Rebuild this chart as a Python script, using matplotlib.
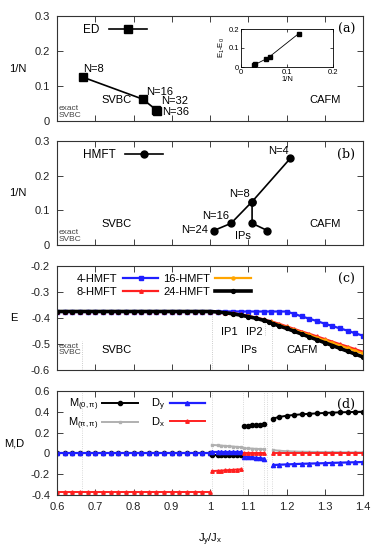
import numpy as np
import matplotlib
matplotlib.use("Agg")
import matplotlib.pyplot as plt
from matplotlib.ticker import FormatStrFormatter

plt.rcParams['font.family'] = ['Liberation Sans', 'DejaVu Sans']
plt.rcParams['mathtext.fontset'] = 'custom'
plt.rcParams['mathtext.rm'] = 'Liberation Sans'
plt.rcParams['mathtext.it'] = 'Liberation Sans'

# ---------------- data ----------------
# (a) exact diagonalisation
ed_x = [0.668, 0.824, 0.860, 0.862]
ed_invn = [1 / 8, 1 / 16, 1 / 32, 1 / 36]
gap_invn = [0.125, 0.0625, 0.055, 0.03125, 0.0278]
gap_e = [0.175, 0.055, 0.043, 0.014, 0.012]

# (b) HMFT boundaries
hm1_x = [1.21, 1.11, 1.055, 1.01]
hm1_invn = [0.25, 0.125, 0.0625, 0.0417]
hm2_x = [1.11, 1.11, 1.15]
hm2_invn = [0.125, 0.0625, 0.0417]

# (c) energies
ec_x = [0.60, 0.62, 0.64, 0.66, 0.68, 0.70, 0.72, 0.74, 0.76, 0.78, 0.80,
        0.82, 0.84, 0.86, 0.88, 0.90, 0.92, 0.94, 0.96, 0.98, 1.00,
        1.02, 1.04, 1.06, 1.08, 1.10, 1.12, 1.14, 1.16, 1.18, 1.20,
        1.22, 1.24, 1.26, 1.28, 1.30, 1.32, 1.34, 1.36, 1.38, 1.40]
e4 = [-0.375] * 31 + [-0.384, -0.394, -0.403, -0.412, -0.422,
                      -0.431, -0.440, -0.449, -0.459, -0.468]
e8 = [-0.375] * 21 + [-0.377, -0.379, -0.382, -0.386, -0.392, -0.398, -0.405,
                      -0.413, -0.422, -0.432, -0.442, -0.452, -0.461, -0.471,
                      -0.481, -0.491, -0.501, -0.510, -0.520, -0.530]
e16 = [-0.375] * 21 + [-0.377, -0.380, -0.384, -0.388, -0.394, -0.400, -0.408,
                       -0.416, -0.426, -0.436, -0.446, -0.456, -0.466, -0.476,
                       -0.486, -0.496, -0.506, -0.516, -0.526, -0.536]
e24_x = ec_x[:28] + [1.155, np.nan, 1.165, 1.18, 1.20, 1.22, 1.24, 1.26, 1.28,
                     1.30, 1.32, 1.34, 1.36, 1.38, 1.40]
e24 = [-0.375] * 21 + [-0.377, -0.380, -0.384, -0.389, -0.395, -0.401, -0.409,
                       -0.415, np.nan, -0.422, -0.430, -0.440, -0.451, -0.462,
                       -0.473, -0.484, -0.495, -0.506, -0.517, -0.528, -0.539,
                       -0.550]

# (d) order parameters, one list per phase
x_svbc = ec_x[:21]
x_ip1 = [1.005, 1.02, 1.03, 1.04, 1.05, 1.06, 1.07, 1.08]
x_ip2 = [1.09, 1.10, 1.11, 1.12, 1.13, 1.14]
x_cafm = [1.165, 1.18, 1.20, 1.22, 1.24, 1.26, 1.28, 1.30, 1.32, 1.34, 1.36, 1.38, 1.40]

m0 = {"svbc": [0.0] * 21,
      "ip1": [-0.012] * 8,
      "ip2": [0.262, 0.266, 0.270, 0.273, 0.276, 0.279],
      "cafm": [0.335, 0.350, 0.362, 0.370, 0.376, 0.381, 0.385, 0.389, 0.392,
               0.395, 0.397, 0.399, 0.401]}
mpp = {"svbc": [0.0] * 21,
       "ip1": [0.082, 0.078, 0.075, 0.072, 0.069, 0.066, 0.063, 0.060],
       "ip2": [0.050, 0.048, 0.046, 0.044, 0.042, 0.040],
       "cafm": [0.032, 0.026, 0.021, 0.018, 0.016, 0.015, 0.014, 0.013, 0.012,
                0.011, 0.010, 0.010, 0.010]}
dy = {"svbc": [0.0] * 21,
      "ip1": [0.018] * 8,
      "ip2": [-0.030, -0.034, -0.038, -0.042, -0.046, -0.050],
      "cafm": [-0.112, -0.109, -0.106, -0.103, -0.100, -0.098, -0.096, -0.094,
               -0.091, -0.089, -0.087, -0.085, -0.083]}
dx = {"svbc": [-0.375] * 21,
      "ip1": [-0.170, -0.167, -0.165, -0.162, -0.160, -0.158, -0.155, -0.153],
      "ip2": [0.0] * 6,
      "cafm": [0.008] * 13}
phase_x = {"svbc": x_svbc, "ip1": x_ip1, "ip2": x_ip2, "cafm": x_cafm}
boundaries = [0.665, 1.005, 1.085, 1.14, 1.148, 1.163]

# ---------------- figure ----------------
W, H = 382, 557
fig = plt.figure(figsize=(W / 100, H / 100), dpi=100)
L, R = 57, 363


def px_axes(top, bottom, left=L, right=R):
    return fig.add_axes([left / W, 1 - bottom / H, (right - left) / W, (bottom - top) / H])


def style(ax, ylim, yticks, ylabel, bottom_labels=False):
    ax.set_xlim(0.6, 1.4)
    ax.set_ylim(*ylim)
    ax.set_xticks(np.round(np.arange(0.6, 1.41, 0.1), 1))
    ax.set_yticks(yticks)
    ax.xaxis.set_major_formatter(FormatStrFormatter('%g'))
    ax.yaxis.set_major_formatter(FormatStrFormatter('%g'))
    ax.tick_params(direction='in', top=True, right=True, length=4, width=0.6,
                   labelsize=8, pad=5, labelbottom=bottom_labels, colors='#222222')
    for s in ax.spines.values():
        s.set_linewidth(0.8)
        s.set_color('#333333')
    ax.set_ylabel(ylabel, rotation=0, fontsize=8, labelpad=12, va='center')


def panel_tag(ax, tag):
    ax.text(0.975, 0.93, tag, transform=ax.transAxes, ha='right', va='top',
            fontsize=9, family='DejaVu Serif')


small = dict(fontsize=6, color='#444444', linespacing=0.95)

# (a)
axa = px_axes(16, 121)
style(axa, (0, 0.3), [0, 0.1, 0.2, 0.3], "1/N")
axa.plot(ed_x, ed_invn, '-s', color='black', lw=1.2, ms=6, label="ED")
axa.legend(loc='upper left', bbox_to_anchor=(0.07, 0.97), frameon=False,
           markerfirst=False, handlelength=3.2, fontsize=8.5, borderaxespad=0)
axa.text(0.668, 0.14, "N=8", fontsize=8, ha='left')
axa.text(0.832, 0.083, "N=16", fontsize=8, ha='left', va='center')
axa.text(0.872, 0.057, "N=32", fontsize=8, ha='left', va='center')
axa.text(0.876, 0.027, "N=36", fontsize=8, ha='left', va='center')
axa.text(0.603, 0.012, "exact\nSVBC", **small)
axa.text(0.715, 0.052, "SVBC", fontsize=8)
axa.text(1.26, 0.052, "CAFM", fontsize=8)
panel_tag(axa, "(a)")

ins = px_axes(29, 67, 241, 333)
ins.plot(gap_invn, gap_e, '-s', color='black', lw=0.6, ms=3)
ins.set_xlim(0, 0.2)
ins.set_ylim(0, 0.2)
ins.set_xticks([0, 0.1, 0.2])
ins.set_yticks([0, 0.1, 0.2])
ins.xaxis.set_major_formatter(FormatStrFormatter('%g'))
ins.yaxis.set_major_formatter(FormatStrFormatter('%g'))
ins.tick_params(direction='in', top=True, right=True, length=2.5, width=0.5,
                labelsize=5.5, pad=1.5)
for s in ins.spines.values():
    s.set_linewidth(0.6)
ins.set_xlabel("1/N", fontsize=5.5, labelpad=0)
ins.set_ylabel("E$_1$-E$_0$", fontsize=5.5, labelpad=1)

# (b)
axb = px_axes(141, 245)
style(axb, (0, 0.3), [0, 0.1, 0.2, 0.3], "1/N")
axb.plot(hm1_x, hm1_invn, '-o', color='black', lw=1.2, ms=5, label="HMFT")
axb.plot(hm2_x, hm2_invn, '-o', color='black', lw=1.2, ms=5)
axb.legend(loc='upper left', bbox_to_anchor=(0.07, 0.97), frameon=False,
           markerfirst=False, handlelength=3.2, fontsize=8.5, borderaxespad=0)
axb.text(1.205, 0.262, "N=4", fontsize=8, ha='right')
axb.text(1.105, 0.138, "N=8", fontsize=8, ha='right')
axb.text(1.05, 0.075, "N=16", fontsize=8, ha='right')
axb.text(0.995, 0.036, "N=24", fontsize=8, ha='right')
axb.text(1.065, 0.018, "IPs", fontsize=8)
axb.text(0.603, 0.012, "exact\nSVBC", **small)
axb.text(0.715, 0.052, "SVBC", fontsize=8)
axb.text(1.26, 0.052, "CAFM", fontsize=8)
panel_tag(axb, "(b)")

# (c)
axc = px_axes(266, 370)
style(axc, (-0.6, -0.2), [-0.6, -0.5, -0.4, -0.3, -0.2], "E")
vl = dict(color='#bbbbbb', lw=0.6, ls=':')
axc.plot([0.665, 0.665], [-0.6, -0.49], **vl)
axc.plot([1.005, 1.005], [-0.6, -0.375], **vl)
axc.plot([1.145, 1.145], [-0.465, -0.4], **vl)
axc.plot([1.163, 1.163], [-0.6, -0.42], **vl)
axc.plot(ec_x, e4, '-s', color='#1f1fff', lw=1.6, ms=2.2, label="4-HMFT")
axc.plot(ec_x, e8, '-^', color='#ff2020', lw=1.6, ms=2.5, label="8-HMFT")
axc.plot(ec_x, e16, '-o', color='#ffa500', lw=1.6, ms=2.2, label="16-HMFT")
axc.plot(e24_x, e24, '-o', color='black', lw=2.6, ms=2.8, label="24-HMFT")
axc.legend(loc='upper left', bbox_to_anchor=(0.05, 0.97), frameon=False,
           markerfirst=False, ncol=2, handlelength=3.2, fontsize=8,
           borderaxespad=0, columnspacing=0.4, handletextpad=0.5, labelspacing=0.3)
axc.text(1.03, -0.465, "IP1", fontsize=8)
axc.text(1.095, -0.465, "IP2", fontsize=8)
axc.text(1.08, -0.524, "IPs", fontsize=8, va='center')
axc.text(1.20, -0.524, "CAFM", fontsize=8, va='center')
axc.text(0.715, -0.524, "SVBC", fontsize=8, va='center')
axc.text(0.603, -0.54, "exact\nSVBC", **small)
panel_tag(axc, "(c)")

# (d)
axd = px_axes(391, 495)
style(axd, (-0.4, 0.6), [-0.4, -0.2, 0, 0.2, 0.4, 0.6], "M,D", bottom_labels=True)
for b in boundaries:
    axd.axvline(b, color='#cccccc', lw=0.6, ls=':')
first = True
for ph in ["svbc", "ip1", "ip2", "cafm"]:
    xs = phase_x[ph]
    axd.plot(xs, m0[ph], '-o', color='black', lw=1.4, ms=3,
             label="M$_{(0,\\pi)}$" if first else None)
    axd.plot(xs, mpp[ph], '-s', color='#b0b0b0', lw=1.4, ms=2,
             label="M$_{(\\pi,\\pi)}$" if first else None)
    axd.plot(xs, dy[ph], '-^', color='#1f1fff', lw=1.6, ms=3,
             label="D$_y$" if first else None)
    axd.plot(xs, dx[ph], '-^', color='#ff2020', lw=1.4, ms=2.5,
             label="D$_x$" if first else None)
    first = False
axd.legend(loc='upper left', bbox_to_anchor=(0.02, 0.99), frameon=False,
           markerfirst=False, ncol=2, handlelength=3.2, fontsize=8,
           borderaxespad=0, columnspacing=1.2, handletextpad=0.4, labelspacing=0.2)
panel_tag(axd, "(d)")
axd.set_xlabel("J$_y$/J$_x$", fontsize=8, labelpad=14)

fig.savefig("out.png", dpi=100)
